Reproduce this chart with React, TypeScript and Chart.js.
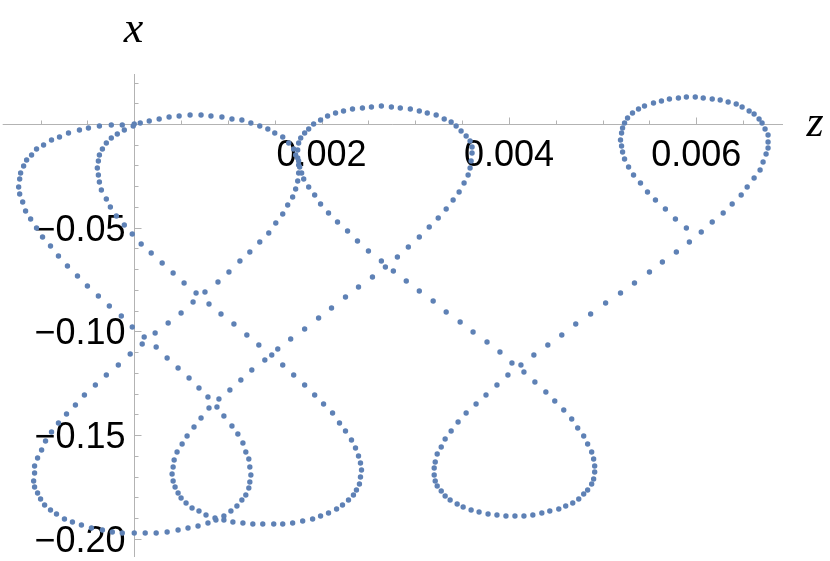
import { useEffect, useRef } from "react";
import { Chart, registerables } from "chart.js";

Chart.register(...registerables);

// Trajectory points (z, x), in drawing order.
const leg1Z = [
  0, -0.000106, -0.000181, -0.000245, -0.000298, -0.00034, -0.000372, -0.000383, -0.000394, -0.000383,
  -0.000372, -0.000351, -0.000298, -0.000255, -0.000191, -0.000106, -0.000021, 0.000074, 0.000181, 0.000298,
  0.000415, 0.000532, 0.00066, 0.000798, 0.000926, 0.001064, 0.001202, 0.00133, 0.001468, 0.001585,
  0.001702, 0.001819, 0.001926, 0.002021, 0.002117, 0.002191, 0.002255, 0.002319, 0.002362, 0.002394,
  0.002415, 0.002426, 0.002415, 0.002404, 0.002372, 0.00234, 0.002287, 0.002223, 0.00216, 0.002074,
  0.001989, 0.001904, 0.001798, 0.001691, 0.001585, 0.001489, 0.001372, 0.001266, 0.00116, 0.001053,
  0.000957, 0.000872, 0.000787, 0.000681, 0.000574, 0.000468, 0.000351, 0.000234, 0.000117, 0,
];
const leg1X = [
  0, -0.00289, -0.00482, -0.00675, -0.00916, -0.01205, -0.01495, -0.01784, -0.02122, -0.02459,
  -0.02797, -0.03182, -0.03616, -0.04002, -0.04436, -0.0487, -0.05304, -0.05786, -0.0622, -0.06702,
  -0.07184, -0.07666, -0.08148, -0.08679, -0.09161, -0.09643, -0.10174, -0.10656, -0.11138, -0.1162,
  -0.12102, -0.12584, -0.13067, -0.135, -0.13934, -0.14417, -0.14802, -0.15236, -0.15622, -0.16008,
  -0.16345, -0.16683, -0.17021, -0.17358, -0.17647, -0.17888, -0.18129, -0.1837, -0.18563, -0.18756,
  -0.18901, -0.19045, -0.19142, -0.19238, -0.19286, -0.19286, -0.19286, -0.19286, -0.19238, -0.1919,
  -0.19094, -0.19094, -0.19238, -0.19383, -0.19479, -0.19576, -0.19672, -0.1972, -0.1972, -0.1972,
];

const leg2Z = [
  -0.000128, -0.000234, -0.00034, -0.000457, -0.000564, -0.00066, -0.000745, -0.00083, -0.000894, -0.000957,
  -0.001, -0.001032, -0.001064, -0.001074, -0.001064, -0.001064, -0.001032, -0.000989, -0.000947, -0.000883,
  -0.000809, -0.000723, -0.000628, -0.000532, -0.000415, -0.000298, -0.00017, -0.000043, 0.000085, 0.000223,
  0.000362, 0.0005, 0.000628, 0.000755, 0.000894, 0.001011, 0.001128, 0.001234, 0.00134, 0.001436,
  0.001511, 0.001585, 0.001638, 0.001691, 0.001723, 0.001745, 0.001755, 0.001755, 0.001745, 0.001745,
  0.001755, 0.001777, 0.001819, 0.001862, 0.001915,
];
const leg2X = [
  -0.1972, -0.19672, -0.19576, -0.19479, -0.19335, -0.1919, -0.19045, -0.18804, -0.18611, -0.1837,
  -0.18081, -0.17792, -0.17502, -0.17213, -0.16827, -0.1649, -0.16104, -0.15718, -0.15284, -0.14851,
  -0.14417, -0.13983, -0.13549, -0.13067, -0.12584, -0.12102, -0.1162, -0.1109, -0.10608, -0.10077,
  -0.09595, -0.09113, -0.08582, -0.081, -0.07618, -0.07136, -0.06606, -0.06172, -0.0569, -0.05256,
  -0.04773, -0.04339, -0.03905, -0.0352, -0.03134, -0.02748, -0.02363, -0.01977, -0.01639, -0.01254,
  -0.00916, -0.00675, -0.00434, -0.00241, 0,
];

const leg3Z = [
  0.001989, 0.002064, 0.002149, 0.002234, 0.00233, 0.002436, 0.002532, 0.002638, 0.002745, 0.00284,
  0.002947, 0.003043, 0.003128, 0.003223, 0.003309, 0.003383, 0.003436, 0.003489, 0.003543, 0.003585,
  0.003606, 0.003606, 0.003596, 0.003585, 0.003564, 0.003521, 0.003468, 0.003404, 0.00333, 0.003245,
  0.003149, 0.003043, 0.002926, 0.002809, 0.002681, 0.002543, 0.002394, 0.002255, 0.002106, 0.001968,
  0.001819, 0.00167, 0.001532, 0.001394, 0.001255, 0.001138, 0.001021, 0.000904, 0.000798, 0.000713,
  0.000638, 0.000564, 0.000511, 0.000457, 0.000426, 0.000415, 0.000404, 0.000415, 0.000436, 0.000468,
  0.0005, 0.000553, 0.000617, 0.000691, 0.000766,
];
const leg3X = [
  0.00193, 0.00386, 0.0053, 0.00627, 0.00723, 0.00771, 0.0082, 0.00868, 0.0082, 0.00771,
  0.00723, 0.00627, 0.0053, 0.00434, 0.00241, 0.00096, -0.00096, -0.00338, -0.00579, -0.0082,
  -0.01109, -0.01398, -0.01784, -0.02122, -0.02459, -0.02845, -0.03279, -0.03664, -0.04098, -0.04532,
  -0.04966, -0.05448, -0.05931, -0.06413, -0.06895, -0.07377, -0.07859, -0.08341, -0.08872, -0.09354,
  -0.09884, -0.10366, -0.10849, -0.11379, -0.11861, -0.12343, -0.12825, -0.13259, -0.13693, -0.14176,
  -0.14609, -0.15043, -0.15429, -0.15815, -0.162, -0.16538, -0.16876, -0.17213, -0.17502, -0.17792,
  -0.18033, -0.18274, -0.18515, -0.1866, -0.18852,
];

const leg4Z = [
  0.000862, 0.000957, 0.001032, 0.001096, 0.001149, 0.001191, 0.001223, 0.001234, 0.001245, 0.001234,
  0.001223, 0.001191, 0.00116, 0.001106, 0.001043, 0.000957, 0.000883, 0.000787, 0.000691, 0.000585,
  0.000468, 0.000351, 0.000234, 0.000106, -0.000021, -0.000138, -0.000266, -0.000383, -0.0005, -0.000606,
  -0.000713, -0.000809, -0.000894, -0.000979, -0.001043, -0.001106, -0.00116, -0.001191, -0.001223, -0.001234,
  -0.001223, -0.001213, -0.001181, -0.001149, -0.001096, -0.001043, -0.000968, -0.000883, -0.000798, -0.000702,
  -0.000585, -0.000489, -0.000372, -0.000245, -0.000128, -0.000011,
];
const leg4X = [
  -0.18997, -0.18901, -0.1866, -0.18418, -0.18129, -0.17888, -0.17551, -0.17261, -0.16924, -0.16538,
  -0.16152, -0.15815, -0.15381, -0.14947, -0.14561, -0.14079, -0.13645, -0.13163, -0.12729, -0.12247,
  -0.11765, -0.11283, -0.10752, -0.1027, -0.09788, -0.09257, -0.08775, -0.08293, -0.07811, -0.07329,
  -0.06847, -0.06365, -0.05882, -0.05448, -0.05014, -0.04581, -0.04195, -0.03761, -0.03375, -0.03038,
  -0.02652, -0.02363, -0.02025, -0.01736, -0.01495, -0.01205, -0.01013, -0.00771, -0.00627, -0.00434,
  -0.00289, -0.00193, -0.00096, -0.00048, -0.00048, -0.00096,
];

const leg5Z = [
  0.000064, 0.00016, 0.000266, 0.000372, 0.000479, 0.000596, 0.000713, 0.000819, 0.000936, 0.001043,
  0.001149, 0.001245, 0.00134, 0.001426, 0.0015, 0.001585, 0.001649, 0.001702, 0.001723, 0.001755,
  0.001766, 0.001787, 0.001809, 0.001862, 0.001926, 0.001989, 0.002074, 0.00217, 0.002277, 0.002383,
  0.0025, 0.002638, 0.002766, 0.002904, 0.003043, 0.003191, 0.00333, 0.003479, 0.003617, 0.003766,
  0.003904, 0.004032, 0.00416, 0.004277, 0.004394,
];
const leg5X = [
  0.00048, 0.00145, 0.00241, 0.00338, 0.00386, 0.00434, 0.00434, 0.00386, 0.00338, 0.00241,
  0.00193, 0.00048, -0.00096, -0.00241, -0.00434, -0.00627, -0.00916, -0.01205, -0.01495, -0.01784,
  -0.02073, -0.02363, -0.02652, -0.03038, -0.03423, -0.03857, -0.04291, -0.04725, -0.05159, -0.05641,
  -0.06123, -0.06606, -0.07088, -0.0757, -0.08052, -0.08534, -0.09065, -0.09547, -0.10029, -0.10511,
  -0.10993, -0.11524, -0.11958, -0.1244, -0.12922,
];

const leg6Z = [
  0.004489, 0.004585, 0.00467, 0.004734, 0.004798, 0.00484, 0.004883, 0.004904, 0.004915, 0.004915,
  0.004904, 0.004883, 0.00484, 0.004798, 0.004745, 0.004681, 0.004606, 0.004532, 0.004436, 0.004351,
  0.004255, 0.00416, 0.004064, 0.003968, 0.003872, 0.003777, 0.003681, 0.003596, 0.003511, 0.003447,
  0.003372, 0.003319, 0.003277, 0.003234, 0.003213, 0.003202, 0.003202, 0.003213, 0.003234, 0.003277,
  0.003319, 0.003383, 0.003457, 0.003543, 0.003649, 0.003755, 0.003872, 0.003989, 0.004128, 0.004266,
  0.004415, 0.004564, 0.004713, 0.004872, 0.005032, 0.005191, 0.00534, 0.0055, 0.005638,
];
const leg6X = [
  -0.13356, -0.1379, -0.14224, -0.14658, -0.15043, -0.15429, -0.15815, -0.16152, -0.1649, -0.16779,
  -0.17117, -0.17358, -0.17647, -0.1784, -0.18081, -0.18274, -0.18418, -0.18563, -0.1866, -0.18756,
  -0.18852, -0.18901, -0.18901, -0.18901, -0.18852, -0.18804, -0.18708, -0.18611, -0.18467, -0.18322,
  -0.18129, -0.17936, -0.17695, -0.17454, -0.17213, -0.16924, -0.16586, -0.16297, -0.15911, -0.15574,
  -0.15188, -0.14802, -0.14368, -0.13934, -0.135, -0.13067, -0.12584, -0.12102, -0.1162, -0.11138,
  -0.10656, -0.10174, -0.09643, -0.09161, -0.08631, -0.08148, -0.07666, -0.07136, -0.06654,
];

const leg7Z = [
  0.005787, 0.005926, 0.006053, 0.00617, 0.006287, 0.006383, 0.006479, 0.006543, 0.006617, 0.006681,
  0.006713, 0.006745, 0.006766, 0.006766, 0.006766, 0.006734, 0.006702, 0.00667, 0.006617, 0.006564,
  0.006489, 0.006426, 0.00634, 0.006255, 0.00617, 0.006074, 0.005989, 0.005894, 0.005809, 0.005713,
  0.005628, 0.005543, 0.005447, 0.005383, 0.005319, 0.005266, 0.005234, 0.005213, 0.005202, 0.005191,
  0.005202, 0.005213, 0.005234, 0.005277, 0.00533, 0.005404, 0.005479, 0.005564, 0.00567, 0.005777,
  0.005894,
];
const leg7X = [
  -0.06172, -0.0569, -0.05207, -0.04725, -0.04291, -0.03857, -0.03423, -0.03038, -0.02604, -0.02218,
  -0.01832, -0.01446, -0.01157, -0.00868, -0.0053, -0.00241, 0.00048, 0.00241, 0.00482, 0.00627,
  0.0082, 0.00964, 0.01061, 0.01157, 0.01205, 0.01254, 0.01302, 0.01302, 0.01254, 0.01205,
  0.01109, 0.01013, 0.00868, 0.00723, 0.0053, 0.00289, 0.00048, -0.00193, -0.00434, -0.00771,
  -0.01061, -0.0135, -0.01688, -0.02073, -0.02459, -0.02845, -0.03279, -0.03664, -0.04098, -0.04581,
  -0.05014,
];

// Axis ticks
const zMajorTicks = [0.002, 0.004, 0.006];
const zTickLabels = ["0.002", "0.004", "0.006"];
const xMajorTicks = [-0.05, -0.1, -0.15, -0.2];
const xTickLabels = ["\u22120.05", "\u22120.10", "\u22120.15", "\u22120.20"];
const zMinorStep = 0.0005;
const xMinorStep = 0.01;

// Plot range
const Z_MIN = -0.0014043;
const Z_MAX = 0.0069255;
const X_MIN = -0.208775;
const X_MAX = 0.024108;

const zLegs = [leg1Z, leg2Z, leg3Z, leg4Z, leg5Z, leg6Z, leg7Z];
const xLegs = [leg1X, leg2X, leg3X, leg4X, leg5X, leg6X, leg7X];

const AXIS_COLOR = "#b3b3b3";
const POINT_COLOR = "#5e81b5";
const TICK_FONT = '36px "Liberation Sans", Arial, sans-serif';
const LABEL_FONT = 'italic 44px "Liberation Serif", "Times New Roman", serif';

const axesPlugin = {
  id: "mmaAxes",
  beforeDatasetsDraw(chart: any) {
    const { ctx, chartArea, scales } = chart;
    const xs = scales.x;
    const ys = scales.y;
    const ox = Math.round(xs.getPixelForValue(0)) + 0.5;
    const oy = Math.round(ys.getPixelForValue(0)) + 0.5;
    ctx.save();
    ctx.strokeStyle = AXIS_COLOR;
    ctx.lineWidth = 1;
    const seg = (x1: number, y1: number, x2: number, y2: number) => {
      ctx.beginPath();
      ctx.moveTo(x1, y1);
      ctx.lineTo(x2, y2);
      ctx.stroke();
    };
    seg(chartArea.left, oy, chartArea.right, oy);
    seg(ox, chartArea.top, ox, chartArea.bottom);

    const kz0 = Math.ceil(Z_MIN / zMinorStep);
    const kz1 = Math.floor(Z_MAX / zMinorStep);
    for (let k = kz0; k <= kz1; k++) {
      if (k === 0) continue;
      const px = Math.round(xs.getPixelForValue(k * zMinorStep)) + 0.5;
      const len = k % 4 === 0 ? 7 : 4;
      seg(px, oy, px, oy - len);
    }
    const kx0 = Math.ceil(X_MIN / xMinorStep);
    const kx1 = Math.floor(X_MAX / xMinorStep);
    for (let k = kx0; k <= kx1; k++) {
      if (k === 0) continue;
      const py = Math.round(ys.getPixelForValue(k * xMinorStep)) + 0.5;
      const len = k % 5 === 0 ? 7 : 4;
      seg(ox, py, ox + len, py);
    }

    ctx.fillStyle = "#000000";
    ctx.font = TICK_FONT;
    ctx.textAlign = "center";
    ctx.textBaseline = "alphabetic";
    zMajorTicks.forEach((v, i) => {
      ctx.fillText(zTickLabels[i], xs.getPixelForValue(v), oy + 41);
    });
    ctx.textAlign = "right";
    xMajorTicks.forEach((v, i) => {
      ctx.fillText(xTickLabels[i], ox - 9, ys.getPixelForValue(v) + 13);
    });

    ctx.font = LABEL_FONT;
    ctx.textAlign = "center";
    ctx.fillText("x", ox - 1, chartArea.top - 32);
    ctx.fillText("z", chartArea.right + 32, oy + 11);
    ctx.restore();
  },
};

export default function App() {
  const canvasRef = useRef<HTMLCanvasElement | null>(null);

  useEffect(() => {
    const canvas = canvasRef.current;
    if (!canvas) return;
    const points: { x: number; y: number }[] = [];
    zLegs.forEach((zs, li) => {
      const xsArr = xLegs[li];
      const n = Math.min(zs.length, xsArr.length);
      for (let i = 0; i < n; i++) points.push({ x: zs[i], y: xsArr[i] });
    });

    const chart = new Chart(canvas, {
      type: "scatter",
      data: {
        datasets: [
          {
            data: points,
            pointRadius: 2.7,
            pointHoverRadius: 2.7,
            backgroundColor: POINT_COLOR,
            pointBackgroundColor: POINT_COLOR,
            borderWidth: 0,
            pointBorderWidth: 0,
            showLine: false,
            clip: false,
          } as any,
        ],
      },
      options: {
        responsive: false,
        animation: false,
        devicePixelRatio: 1,
        events: [],
        layout: { padding: { left: 0, right: 47, top: 74, bottom: 4 } },
        scales: {
          x: { type: "linear", display: false, min: Z_MIN, max: Z_MAX },
          y: { type: "linear", display: false, min: X_MIN, max: X_MAX },
        },
        plugins: {
          legend: { display: false },
          tooltip: { enabled: false },
          title: { display: false },
        },
      },
      plugins: [axesPlugin],
    });
    return () => chart.destroy();
  }, []);

  return (
    <div style={{ position: "absolute", left: 0, top: 0, width: 830, height: 561, background: "#ffffff" }}>
      <canvas ref={canvasRef} width={830} height={561} style={{ width: "830px", height: "561px", display: "block" }} />
    </div>
  );
}
